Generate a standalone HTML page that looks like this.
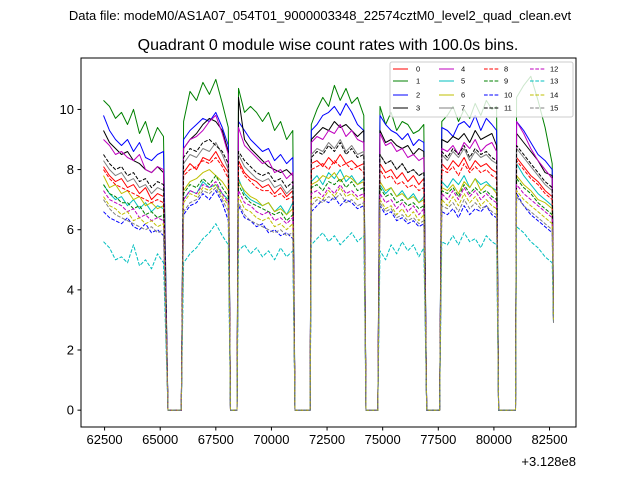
<!DOCTYPE html>
<html><head><meta charset="utf-8"><style>
body{margin:0;background:#fff;}
svg text{font-family:"Liberation Sans",sans-serif;}
</style></head><body>
<svg id="chart" width="640" height="480" xmlns="http://www.w3.org/2000/svg">
<rect width="640" height="480" fill="#fff"/>
<text x="320" y="20" font-size="13" text-anchor="middle">Data file: modeM0/AS1A07_054T01_9000003348_22574cztM0_level2_quad_clean.evt</text>
<text x="328" y="50" font-size="16" text-anchor="middle">Quadrant 0 module wise count rates with 100.0s bins.</text>
<g id="plot"></g>
<g id="axes"></g>
<g id="legend"></g>
<text x="576" y="466" font-size="13" text-anchor="end">+3.128e8</text>
</svg>
<script>
const segTimes = [
 [62450,62720,62990,63260,63530,63800,64070,64340,64610,64880,65150],
 [66050,66340,66630,66920,67210,67500,67790,68060],
 [68520,68790,69060,69330,69600,69870,70140,70410,70680,70960],
 [71790,72050,72310,72570,72830,73090,73350,73610,73870,74150],
 [74880,75130,75380,75630,75880,76130,76380,76630,76850],
 [77660,77910,78160,78410,78660,78910,79160,79410,79660,79910,80120],
 [81020,81340,81660,81980,82300,82620]
];
const gapTimes = [[65350,65950],[68160,68450],[71060,71740],[74250,74780],[76980,77560],[80210,80970]];
const gapValues = [0,0];
const endTime = 82680;
const xTicks = [62500,65000,67500,70000,72500,75000,77500,80000,82500];
const yTicks = [0,2,4,6,8,10];
const s0 = [[8.1,7.8,7.6,7.7,7.4,7.5,7.2,7.4,7.0,7.2,7.1],[7.9,8.2,8.0,8.4,8.3,8.6,8.2,7.9],[8.3,7.9,7.7,7.6,7.4,7.5,7.2,7.4,7.1,7.3],[8.2,8.3,8.1,8.4,8.2,8.5,8.2,8.3,8.1,8.2],[8.2,7.9,8.0,7.7,7.9,7.6,7.8,7.5,7.7],[8.2,8.0,8.3,8.1,8.4,8.0,8.3,8.1,8.2,8.0,7.9],[8.4,8.1,7.8,7.6,7.3,7.1],[3.0]];
const s1 = [[10.3,10.1,9.7,9.9,9.5,10.0,9.2,9.6,8.9,9.4,9.1],[9.6,10.6,10.3,10.9,10.5,11.0,10.2,9.4],[10.7,9.9,10.1,9.9,9.6,9.9,9.3,9.6,9.0,9.3],[9.5,10.0,10.4,10.1,10.8,10.3,10.7,10.2,10.4,9.8],[10.1,9.5,9.9,9.3,9.6,9.5,9.2,9.3,9.5],[9.6,9.8,10.1,9.6,10.0,9.7,10.2,9.8,10.3,10.0,10.1],[10.4,10.8,11.1,10.3,9.4,8.2],[3.3]];
const s2 = [[9.8,9.3,9.0,8.8,9.0,8.6,8.9,8.4,8.3,8.5,8.6],[9.0,9.3,9.5,9.7,9.6,9.9,9.4,8.8],[9.6,9.3,9.0,8.8,8.6,8.7,8.3,8.5,8.2,8.4],[9.3,9.5,9.8,9.9,10.1,9.8,10.2,9.9,9.5,9.3],[9.8,9.5,9.3,9.2,9.0,9.2,8.8,9.0,8.9],[9.4,9.3,9.1,9.5,9.6,9.4,9.8,9.3,9.7,9.5,9.3],[9.6,9.3,8.9,8.5,8.3,8.0],[3.0]];
const s3 = [[9.3,8.9,8.7,8.5,8.6,8.3,8.2,8.0,7.9,8.1,7.9],[8.7,9.0,9.2,9.5,9.7,9.6,9.3,8.6],[10.4,9.0,8.7,8.5,8.3,8.1,8.0,7.9,8.0,7.8],[9.0,9.2,9.4,9.3,9.6,9.4,9.5,9.3,9.1,9.3],[9.3,8.9,9.0,8.8,8.7,8.8,8.5,8.7,8.6],[9.0,8.9,9.1,9.0,9.2,8.9,9.3,9.0,9.1,9.2,8.8],[9.2,8.9,8.6,8.3,7.9,7.8],[3.1]];
const s4 = [[9.0,8.8,8.5,8.6,8.4,8.3,8.5,8.0,7.9,8.1,8.0],[8.7,9.0,9.1,9.3,9.6,9.8,9.2,8.5],[9.4,8.8,8.6,8.4,8.2,8.3,7.9,8.0,7.7,7.9],[8.9,9.1,9.0,9.3,9.2,9.5,9.1,9.3,9.0,8.9],[9.2,8.8,8.9,8.6,8.7,8.4,8.5,8.3,8.4],[8.7,8.6,8.8,8.5,8.9,8.7,9.0,8.6,8.8,8.9,8.6],[9.6,9.2,8.7,8.3,8.0,7.7],[3.0]];
const s5 = [[7.5,7.2,7.0,7.1,6.8,7.0,6.7,6.9,6.6,6.8,6.7],[7.0,7.3,7.2,7.6,7.4,7.5,7.2,7.0],[7.7,7.2,7.0,6.9,6.8,6.9,6.6,6.8,6.5,6.9],[7.6,7.8,7.5,7.9,7.7,8.0,7.6,7.8,7.5,7.7],[7.5,7.2,7.4,7.1,7.3,7.0,7.2,6.9,7.1],[7.6,7.4,7.7,7.5,7.8,7.4,7.7,7.5,7.6,7.4,7.3],[8.2,7.8,7.5,7.2,7.0,6.8],[3.0]];
const s6 = [[7.8,7.4,7.5,7.2,7.3,7.0,7.1,6.8,6.9,6.7,6.8],[7.3,7.6,7.7,7.9,8.0,7.8,7.6,7.3],[7.6,7.3,7.1,7.0,6.8,6.9,6.6,6.7,6.5,6.7],[7.5,7.6,7.8,7.7,7.9,7.6,7.8,7.7,7.5,7.6],[7.6,7.3,7.4,7.1,7.2,7.0,7.1,6.9,7.0],[7.4,7.3,7.5,7.2,7.6,7.4,7.7,7.3,7.5,7.4,7.2],[7.8,7.5,7.3,7.0,6.9,6.7],[3.0]];
const s7 = [[8.3,8.0,7.8,7.9,7.6,7.7,7.4,7.5,7.2,7.4,7.3],[8.2,8.5,8.4,8.7,8.6,8.9,8.5,8.0],[8.5,8.1,7.9,7.7,7.6,7.7,7.4,7.5,7.2,7.4],[8.5,8.7,8.6,8.9,8.7,9.0,8.6,8.8,8.5,8.6],[8.5,8.2,8.3,8.0,8.2,7.9,8.0,7.8,7.9],[8.5,8.3,8.6,8.4,8.7,8.3,8.6,8.4,8.5,8.3,8.2],[8.7,8.4,8.1,7.8,7.5,7.3],[3.0]];
const s8 = [[8.0,7.7,7.5,7.4,7.3,7.2,7.1,7.0,6.9,7.0,6.9],[7.8,8.0,8.1,8.3,8.2,8.4,8.1,7.7],[8.2,7.8,7.6,7.4,7.3,7.3,7.1,7.2,7.0,7.1],[8.0,8.1,8.2,8.0,8.3,8.1,8.2,8.0,8.1,7.9],[8.0,7.7,7.8,7.5,7.6,7.4,7.5,7.3,7.4],[8.0,7.9,8.1,7.8,8.2,7.9,8.1,7.9,8.0,7.8,7.7],[8.3,8.0,7.7,7.5,7.2,7.0],[3.0]];
const s9 = [[7.5,7.2,7.1,6.9,6.9,6.7,6.8,6.5,6.6,6.4,6.5],[7.2,7.5,7.4,7.7,7.5,7.8,7.4,7.1],[7.5,7.1,6.9,6.8,6.7,6.6,6.5,6.6,6.3,6.5],[7.4,7.5,7.3,7.6,7.5,7.7,7.4,7.6,7.3,7.4],[7.4,7.1,7.2,6.9,7.0,6.8,6.9,6.7,6.8],[7.3,7.2,7.4,7.1,7.5,7.2,7.4,7.2,7.3,7.1,7.0],[7.7,7.4,7.2,6.9,6.7,6.5],[3.0]];
const s10 = [[6.6,6.4,6.3,6.2,6.4,6.1,6.0,6.2,5.9,6.0,5.8],[6.5,6.8,6.9,7.2,7.0,7.3,6.9,6.3],[6.8,6.4,6.3,6.1,6.2,5.9,6.0,5.8,5.9,5.7],[6.6,6.8,7.0,6.9,7.1,6.8,7.0,6.9,6.7,6.8],[6.8,6.5,6.6,6.3,6.4,6.2,6.3,6.1,6.2],[6.6,6.5,6.7,6.4,6.8,6.5,6.7,6.6,6.8,6.5,6.4],[7.2,6.8,6.5,6.3,6.1,5.9],[2.9]];
const s11 = [[8.5,8.2,8.0,8.1,7.8,7.9,7.6,7.7,7.4,7.6,7.5],[8.4,8.7,8.6,8.9,9.0,8.8,8.6,8.2],[8.6,8.3,8.1,7.9,7.8,7.9,7.6,7.7,7.4,7.6],[8.4,8.6,8.5,8.8,8.6,8.9,8.5,8.7,8.4,8.5],[8.5,8.2,8.3,8.0,8.2,7.9,8.0,7.8,7.9],[8.6,8.4,8.7,8.5,8.8,8.4,8.7,8.5,8.6,8.4,8.3],[8.8,8.5,8.2,7.9,7.6,7.4],[3.0]];
const s12 = [[7.3,7.0,6.9,6.8,6.6,6.7,6.4,6.5,6.3,6.4,6.3],[7.0,7.3,7.2,7.5,7.4,7.6,7.2,6.9],[7.3,6.9,6.8,6.6,6.5,6.6,6.3,6.4,6.2,6.4],[7.2,7.3,7.1,7.4,7.2,7.5,7.2,7.3,7.1,7.2],[7.2,6.9,7.0,6.7,6.9,6.6,6.8,6.5,6.7],[7.2,7.0,7.3,7.0,7.4,7.1,7.3,7.0,7.2,7.0,6.9],[7.5,7.2,7.0,6.8,6.6,6.4],[3.0]];
const s13 = [[5.6,5.4,5.0,5.1,4.9,5.5,4.8,5.0,4.7,5.2,4.9],[4.9,5.2,5.4,5.7,5.9,6.2,5.8,5.5],[5.3,5.5,5.2,5.4,5.1,5.3,5.0,5.4,5.1,5.3],[5.5,5.7,5.9,5.6,5.8,5.5,5.7,5.9,5.6,5.8],[5.3,5.0,5.5,5.2,5.6,5.3,5.5,5.1,5.4],[5.6,5.5,5.8,5.5,5.9,5.6,5.7,5.4,5.8,5.6,5.5],[6.1,5.9,5.6,5.4,5.1,4.9],[2.9]];
const s14 = [[7.1,6.8,6.7,6.5,6.6,6.3,6.4,6.2,6.3,6.1,6.2],[6.9,7.2,7.1,7.4,7.3,7.5,7.1,6.8],[7.1,6.7,6.6,6.4,6.3,6.4,6.1,6.2,6.0,6.2],[7.0,7.1,7.0,7.3,7.1,7.4,7.1,7.2,7.0,7.1],[7.0,6.7,6.8,6.5,6.7,6.4,6.6,6.3,6.5],[7.0,6.8,7.1,6.8,7.2,6.9,7.1,6.8,7.0,6.8,6.7],[7.3,7.0,6.8,6.6,6.4,6.2],[3.0]];
const s15 = [[7.0,6.7,6.5,6.4,6.3,6.2,6.1,6.0,6.1,5.9,6.0],[6.6,6.9,7.0,7.3,7.2,7.4,7.0,6.6],[6.9,6.5,6.3,6.2,6.1,6.0,5.9,6.0,5.8,5.9],[6.8,7.0,6.9,7.1,7.0,7.2,6.9,7.0,6.8,6.9],[6.9,6.6,6.7,6.4,6.5,6.3,6.4,6.2,6.3],[6.8,6.7,6.9,6.6,7.0,6.7,6.9,6.7,6.8,6.6,6.5],[7.1,6.8,6.6,6.4,6.2,6.0],[2.9]];
const seriesLabels = ["0","1","2","3","4","5","6","7","8","9","10","11","12","13","14","15"];

const allSeries=[s0,s1,s2,s3,s4,s5,s6,s7,s8,s9,s10,s11,s12,s13,s14,s15];
const colors=["#ff0000","#008000","#0000ff","#000000","#bf00bf","#00bfbf","#bfbf00","#808080"];
const NS="http://www.w3.org/2000/svg";
const L=81,R=576,T=58,B=427;
const xMin=61440,xMax=83690,yMin=-0.56,yMax=11.71;
function xs(v){return L+(v-xMin)/(xMax-xMin)*(R-L);}
function ys(v){return B-(v-yMin)/(yMax-yMin)*(B-T);}
function mk(tag,attrs,parent){const e=document.createElementNS(NS,tag);for(const k in attrs)e.setAttribute(k,attrs[k]);parent.appendChild(e);return e;}
const plot=document.getElementById('plot'),axes=document.getElementById('axes'),leg=document.getElementById('legend');
function buildPoints(s){
  const pts=[];
  for(let k=0;k<segTimes.length;k++){
    for(let i=0;i<segTimes[k].length;i++)pts.push([segTimes[k][i],s[k][i]]);
    if(k<gapTimes.length)for(let j=0;j<gapTimes[k].length;j++)pts.push([gapTimes[k][j],gapValues[j]]);
  }
  pts.push([endTime,s[7][0]]);
  return pts;
}
allSeries.forEach((ser,idx)=>{
  const pts=buildPoints(ser);
  const p=mk('polyline',{points:pts.map(q=>xs(q[0]).toFixed(1)+','+ys(q[1]).toFixed(1)).join(' '),fill:'none',stroke:colors[idx%8],'stroke-width':1,'stroke-dasharray':idx>=8?'3.7,1.6':'none','stroke-linejoin':'round'},plot);
  
  
});
const fr=mk('rect',{x:L,y:T,width:R-L,height:B-T,fill:'none',stroke:'#000','stroke-width':1},axes);


xTicks.forEach(v=>{
  const x=xs(v);
  const t=mk('line',{x1:x,x2:x,y1:B,y2:B+3.5,stroke:'#000'},axes);
  
  
  const tx=mk('text',{x:x,y:B+17,'font-size':13,'text-anchor':'middle'},axes);
  tx.textContent=v;
  
  
});
yTicks.forEach(v=>{
  const y=ys(v);
  const t=mk('line',{x1:L-3.5,x2:L,y1:y,y2:y,stroke:'#000'},axes);
  
  
  const tx=mk('text',{x:L-7,y:y+4.5,'font-size':13,'text-anchor':'end'},axes);
  tx.textContent=v;
  
  
});
const lb=mk('rect',{x:390,y:62,width:183,height:55,rx:2,fill:'#fff','fill-opacity':0.8,stroke:'#ccc','stroke-width':1},leg);


const colX=[393,439,484,530],rowY=[69,81,95,108];
seriesLabels.forEach((lab,i)=>{
  const c=Math.floor(i/4),r=i%4;
  const g=mk('g',{},leg);
  
  
  mk('line',{x1:colX[c],x2:colX[c]+15,y1:rowY[r],y2:rowY[r],stroke:colors[i%8],'stroke-width':1,'stroke-dasharray':i>=8?'3.7,1.6':'none'},g);
  const t=mk('text',{x:colX[c]+(c===0?23:c===1?22:20),y:rowY[r]+2.5,'font-size':7.5},g);
  t.textContent=lab;
});
</script>
</body></html>
